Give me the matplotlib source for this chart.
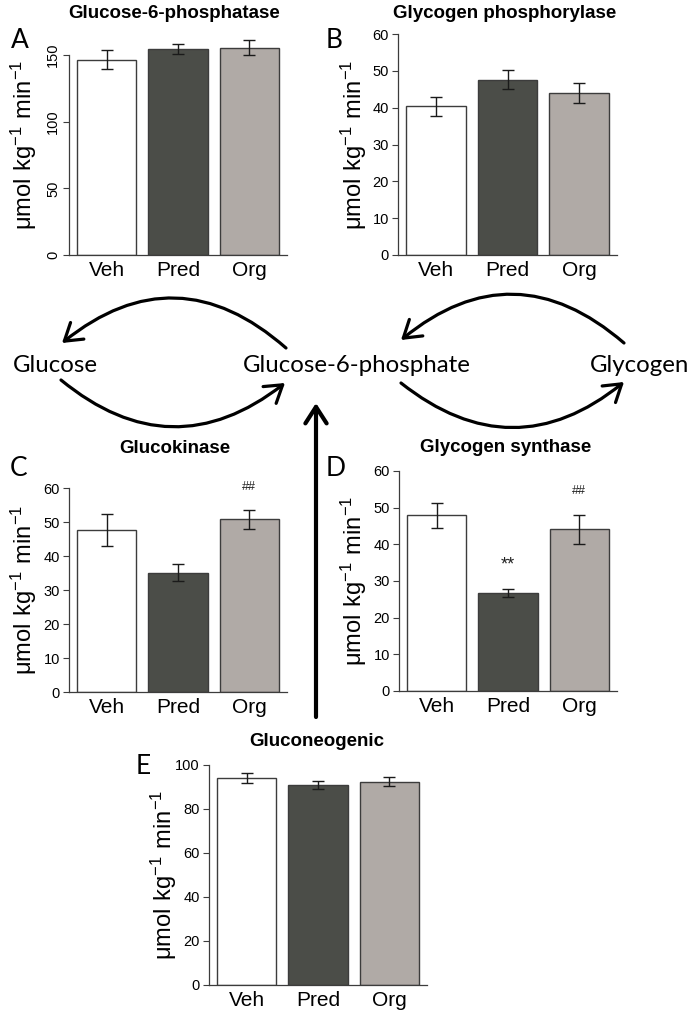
import numpy as np
import matplotlib
matplotlib.use('Agg')
import matplotlib.pyplot as plt
from matplotlib.patches import FancyArrowPatch

groups = ['Veh', 'Pred', 'Org']
bar_colors = ['#ffffff', '#4b4d48', '#b0aaa6']

g6pase_mean = [146.5, 154.5, 155.6]
g6pase_sem = [7.3, 4.0, 5.3]
gp_mean = [40.4, 47.6, 44.0]
gp_sem = [2.6, 2.55, 2.6]
gk_mean = [47.7, 35.1, 50.8]
gk_sem = [4.65, 2.5, 2.85]
gs_mean = [47.9, 26.7, 44.1]
gs_sem = [3.5, 1.1, 4.0]
gng_mean = [93.9, 91.1, 92.3]
gng_sem = [2.25, 1.8, 2.05]

W, H = 692, 1017
plt.rcParams['font.family'] = ['Liberation Sans', 'DejaVu Sans']
fig = plt.figure(figsize=(W / 100, H / 100), dpi=100)

ylab = r'$\mathregular{\mu mol\ kg^{-1}\ min^{-1}}$'
axcol = '#3c3c3c'


def px_axes(x0, x1, ytop, ybot):
    return fig.add_axes([x0 / W, 1 - ybot / H, (x1 - x0) / W, (ybot - ytop) / H])


def ftext(x, y, s, **kw):
    fig.text(x / W, 1 - y / H, s, **kw)


def panel(ax, means, sems, ylim, ticks, rot=False, marks=None):
    pos = np.arange(len(groups)) * 1.2 + 0.7
    ax.bar(pos, means, width=1.0, color=bar_colors, edgecolor=axcol, linewidth=1.0)
    ax.errorbar(pos, means, yerr=sems, fmt='none', ecolor='#1a1a1a',
                elinewidth=1.0, capsize=4.3, capthick=1.0)
    ax.set_xlim(0.064, 3.736)
    ax.set_ylim(*ylim)
    ax.set_xticks(pos)
    ax.set_xticklabels(groups, fontsize=15)
    ax.set_yticks(ticks)
    ax.tick_params(axis='x', length=0, pad=4)
    ax.tick_params(axis='y', length=4.5, width=0.8, color=axcol, labelsize=10.5, pad=2)
    if rot:
        for lab in ax.get_yticklabels():
            lab.set_rotation(90)
            lab.set_va('center')
    for s in ['top', 'right']:
        ax.spines[s].set_visible(False)
    ax.spines['left'].set_bounds(ticks[0], ticks[-1])
    for s in ['left', 'bottom']:
        ax.spines[s].set_color(axcol)
        ax.spines[s].set_linewidth(0.9)
    if marks:
        for i, m in marks.items():
            ax.text(pos[i], means[i] + sems[i] + 6.5, m, ha='center', va='center',
                    fontsize=13 if m == '**' else 9, color='#222222')


axA = px_axes(69, 287, 34, 255)
panel(axA, g6pase_mean, g6pase_sem, (0, 165.75), [0, 50, 100, 150], rot=True)
axB = px_axes(398, 617, 34, 255)
panel(axB, gp_mean, gp_sem, (0, 60), [0, 10, 20, 30, 40, 50, 60])
axC = px_axes(69, 287, 488, 692)
panel(axC, gk_mean, gk_sem, (0, 60), [0, 10, 20, 30, 40, 50, 60], marks={2: '##'})
axD = px_axes(399, 617, 471, 691)
panel(axD, gs_mean, gs_sem, (0, 60), [0, 10, 20, 30, 40, 50, 60], marks={1: '**', 2: '##'})
axE = px_axes(209, 427, 765, 985)
panel(axE, gng_mean, gng_sem, (0, 100), [0, 20, 40, 60, 80, 100])

# y labels
for xc, ax in [(24, axA), (354, axB), (24, axC), (354, axD), (164, axE)]:
    b = ax.get_position()
    fig.text(xc / W, b.y0 + b.height / 2, ylab, rotation=90, ha='center', va='center',
             fontsize=17)

# titles
tkw = dict(ha='center', va='center', fontsize=13.5, fontweight='bold')
ftext(174, 13, 'Glucose-6-phosphatase', **tkw)
ftext(505, 13, 'Glycogen phosphorylase', **tkw)
ftext(175, 448, 'Glucokinase', **tkw)
ftext(506, 447, 'Glycogen synthase', **tkw)
ftext(317, 742, 'Gluconeogenic', **tkw)

# panel letters
lkw = dict(ha='center', va='center', fontsize=19, family=['Lato', 'DejaVu Sans'])
ftext(20, 41, 'A', **lkw)
ftext(334, 41, 'B', **lkw)
ftext(19, 468, 'C', **lkw)
ftext(336, 468, 'D', **lkw)
ftext(143, 766, 'E', **lkw)

# pathway diagram
dkw = dict(ha='center', va='center', fontsize=17.3, family=['Lato', 'DejaVu Sans'])
ftext(55, 365, 'Glucose', **dkw)
ftext(357, 365, 'Glucose-6-phosphate', **dkw)
ftext(640, 365, 'Glycogen', **dkw)

ov = fig.add_axes([0, 0, 1, 1], zorder=5)
ov.set_xlim(0, W)
ov.set_ylim(H, 0)
ov.axis('off')
ov.patch.set_alpha(0)

arcs = [((286, 348), (62, 343), 0.42),
        ((61, 380), (285, 383), 0.40),
        ((624, 343), (401, 340), 0.42),
        ((401, 383), (624, 382), 0.40)]
for a, b, r in arcs:
    ov.add_patch(FancyArrowPatch(a, b, connectionstyle=f'arc3,rad={r}',
                                 arrowstyle='->,head_length=0.7,head_width=0.45',
                                 mutation_scale=17, lw=2.3, color='black',
                                 shrinkA=0, shrinkB=0))
ov.add_patch(FancyArrowPatch((316, 717), (316, 403),
                             arrowstyle='->,head_length=0.7,head_width=0.45',
                             mutation_scale=17, lw=3.0, color='black',
                             shrinkA=0, shrinkB=0))

plt.savefig('out.png', dpi=100)
plt.close()
